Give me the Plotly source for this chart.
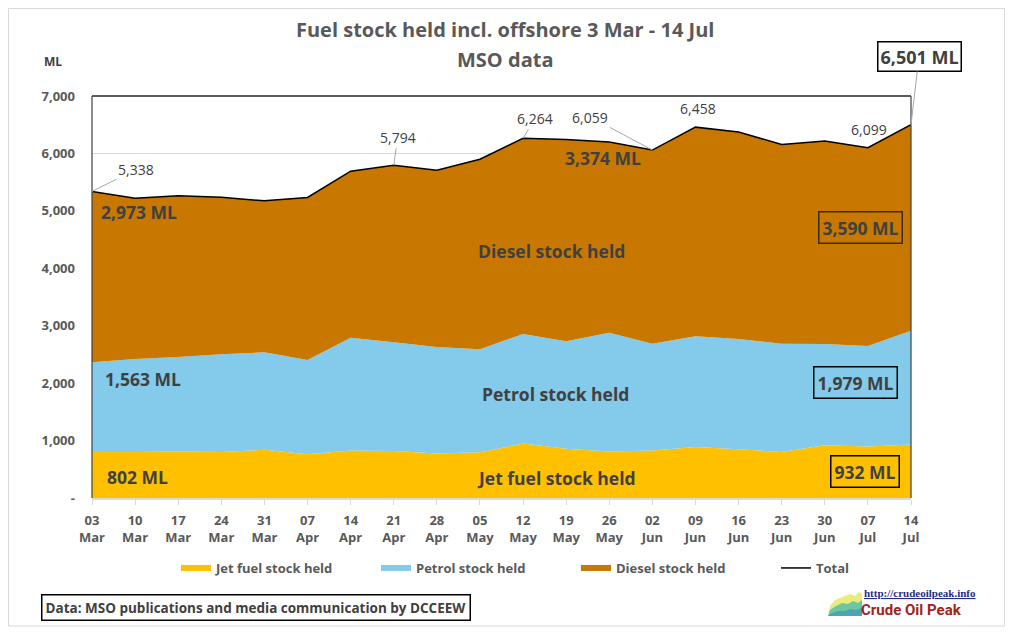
import plotly.graph_objects as go

dates = ["03 Mar", "10 Mar", "17 Mar", "24 Mar", "31 Mar", "07 Apr", "14 Apr", "21 Apr",
         "28 Apr", "05 May", "12 May", "19 May", "26 May", "02 Jun", "09 Jun", "16 Jun",
         "23 Jun", "30 Jun", "07 Jul", "14 Jul"]
jet = [802, 803, 809, 803, 838, 763, 826, 820, 774, 798, 948, 856, 809, 826, 890, 850, 803, 919, 896, 932]
petrol = [1563, 1618, 1647, 1699, 1699, 1640, 1966, 1891, 1856, 1792, 1908, 1873, 2070, 1859, 1925, 1919, 1885, 1763, 1751, 1979]
diesel = [2973, 2800, 2805, 2736, 2637, 2830, 2898, 3083, 3078, 3309, 3408, 3512, 3321, 3374, 3643, 3605, 3466, 3535, 3452, 3590]
total = [5338, 5221, 5261, 5238, 5174, 5233, 5690, 5794, 5708, 5899, 6264, 6241, 6200, 6059, 6458, 6374, 6154, 6217, 6099, 6501]
y_ticks = [0, 1000, 2000, 3000, 4000, 5000, 6000, 7000]
y_ticktext = ["-", "1,000", "2,000", "3,000", "4,000", "5,000", "6,000", "7,000"]

FONT = "Open Sans"
DARK = "#404040"
GREY = "#595959"

fig = go.Figure()
fig.add_trace(go.Scatter(x=dates, y=jet, name="Jet fuel stock held", stackgroup="one",
                         mode="none", fillcolor="#FFC000"))
fig.add_trace(go.Scatter(x=dates, y=petrol, name="Petrol stock held", stackgroup="one",
                         mode="none", fillcolor="#83CAEB"))
fig.add_trace(go.Scatter(x=dates, y=diesel, name="Diesel stock held", stackgroup="one",
                         mode="none", fillcolor="#C87800"))
fig.add_trace(go.Scatter(x=dates, y=total, name="Total", mode="lines",
                         line=dict(color="black", width=1.5)))

# page pixel positions of the plot area (the page body adds an 8px margin)
OFF = 8
L, R, T, B = 92, 911, 96, 498
W, H = 1013 - 2 * OFF, 635 - 2 * OFF


def px(x):
    return (x - L) / (R - L)


def py(y):
    return (B - y) / (B - T)


ann = []
total_labels = [(0, 44, -22, True), (7, 4, -28, True), (10, 12, -20, True),
                (13, -62, -33, True), (14, 3, -19, False), (18, 1, -18, False)]
for i, ax, ay, show in total_labels:
    ann.append(dict(x=dates[i], y=total[i], xref="x", yref="y", text=f"{total[i]:,}",
                    showarrow=True, arrowhead=0, arrowwidth=1,
                    arrowcolor="#A6A6A6" if show else "rgba(0,0,0,0)",
                    ax=ax, ay=ay, font=dict(family=FONT, size=14, color=DARK)))
ann.append(dict(x=dates[-1], y=total[-1], xref="x", yref="y", text=f"{total[-1]:,} ML",
                showarrow=True, arrowhead=0, arrowwidth=1, arrowcolor="#A6A6A6",
                ax=8, ay=-68, bordercolor="black", borderwidth=1.5, borderpad=2,
                bgcolor="white", font=dict(family=FONT, size=18, color=DARK, weight="bold")))


def txt(text, x, y, size=17.5, color=DARK, family=FONT, weight="bold", box=False,
        bcolor="black"):
    d = dict(x=px(x), y=py(y), xref="paper", yref="paper", text=text, showarrow=False,
             xanchor="center", yanchor="middle",
             font=dict(family=family, size=size, color=color, weight=weight))
    if box:
        d.update(bordercolor=bcolor, borderwidth=1.5, borderpad=3)
    ann.append(d)


txt(f"{diesel[0]:,} ML", 139, 212)
txt(f"{diesel[13]:,} ML", 603, 158)
txt("Diesel stock held", 551, 251)
txt(f"{diesel[-1]:,} ML", 860, 227, box=True, bcolor="#3A2A10")
txt(f"{petrol[0]:,} ML", 143, 379)
txt("Petrol stock held", 555, 394)
txt(f"{petrol[-1]:,} ML", 855, 382, box=True)
txt(f"{jet[0]:,} ML", 137, 477)
txt("Jet fuel stock held", 556, 478)
txt(f"{jet[-1]:,} ML", 865, 471, box=True)

txt("Fuel stock held incl. offshore 3 Mar - 14 Jul", 505, 30, size=20, color=GREY)
txt("MSO data", 505, 60, size=20, color=GREY)
txt("ML", 53, 61, size=12)
txt("Data: MSO publications and media communication by DCCEEW", 256, 607, size=13.5,
    box=True)
txt("<u>http://crudeoilpeak.info</u>", 920, 593, size=11, color="#1F2D7A",
    family="Liberation Serif")
txt("Crude Oil Peak", 911, 610, size=15, color="#A0241C", family="Roboto")


def pth(points):
    return "M " + " L ".join(f"{px(a):.4f},{py(b):.4f}" for a, b in points) + " Z"


shapes = [
    dict(type="rect", xref="paper", yref="paper", x0=px(8.5), x1=px(1004.5), y0=py(626), y1=py(8.5),
         line=dict(color="#D9D9D9", width=1), layer="below"),
    dict(type="line", xref="paper", yref="paper", x0=0, x1=1, y0=1, y1=1,
         line=dict(color="#262626", width=1.5)),
    dict(type="line", xref="paper", yref="paper", x0=0, x1=0, y0=0, y1=1,
         line=dict(color="#404040", width=1.2)),
    dict(type="line", xref="paper", yref="paper", x0=1, x1=1, y0=0, y1=1,
         line=dict(color="#404040", width=1.2)),
    # logo mini-chart
    dict(type="path", xref="paper", yref="paper", line=dict(width=0), fillcolor="#E8EC7A",
         path=pth([(828, 616), (830, 606), (835, 600), (840, 598), (845, 596), (850, 594),
                   (855, 596), (859, 592), (862, 594), (862, 616)])),
    dict(type="path", xref="paper", yref="paper", line=dict(width=0), fillcolor="#6CC6A0",
         path=pth([(828, 616), (830, 610), (836, 606), (842, 603), (848, 604), (853, 601),
                   (858, 603), (862, 600), (862, 616)])),
    dict(type="path", xref="paper", yref="paper", line=dict(width=0), fillcolor="#4AA5B8",
         path=pth([(828, 616), (832, 613), (838, 611), (845, 611), (850, 609), (856, 610),
                   (862, 608), (862, 616)])),
]

fig.update_layout(
    width=W, height=H,
    margin=dict(l=L - OFF, r=W - (R - OFF), t=T - OFF, b=H - (B - OFF)),
    paper_bgcolor="white", plot_bgcolor="white",
    showlegend=True,
    legend=dict(orientation="h", x=px(176), xanchor="left", y=py(568), yanchor="middle",
                traceorder="normal",
                font=dict(family=FONT, size=13, color=GREY, weight="bold"),
                itemwidth=30, entrywidth=155, entrywidthmode="pixels"),
    xaxis=dict(type="category", range=[0, len(dates) - 1],
               tickvals=dates, ticktext=[d.replace(" ", "<br>") for d in dates],
               showgrid=False, ticks="outside", ticklen=5, tickcolor="#D9D9D9",
               showline=True, linecolor="#D9D9D9", linewidth=1.5,
               ticklabelstandoff=5,
               tickfont=dict(family=FONT, size=13, color=GREY, weight="bold"),
               zeroline=False),
    yaxis=dict(range=[0, 7000], tickvals=y_ticks, ticktext=y_ticktext,
               showgrid=True, gridcolor="#D9D9D9", gridwidth=1, zeroline=False,
               ticks="", ticklabelstandoff=16,
               tickfont=dict(family=FONT, size=13, color=GREY, weight="bold")),
    annotations=ann,
    shapes=shapes,
)

fig.write_html("out.html")
